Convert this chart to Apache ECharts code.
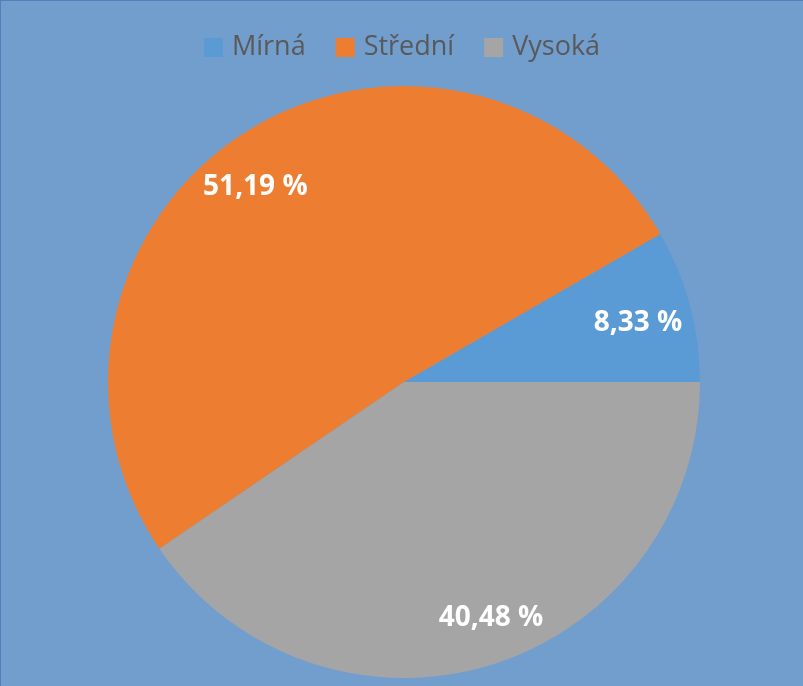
<!DOCTYPE html>
<html>
<head>
<meta charset="utf-8">
<script src="https://cdn.jsdelivr.net/npm/echarts@6/dist/echarts.min.js"></script>
<style>
html,body{margin:0;padding:0;background:#729ece;}
#chart{width:803px;height:686px;box-sizing:border-box;border-left:1px solid #4f82bd;border-top:1px solid #4f82bd;}
</style>
</head>
<body>
<div id="chart"></div>
<script>
const categories = ['Mírná', 'Střední', 'Vysoká'];
const values = [8.33, 51.19, 40.48];
const colors = ['#5b9bd5', '#ed7d31', '#a5a5a5'];
const labelOffsets = [[-5, 5], [-17, 15], [14, 0]];

const chart = echarts.init(document.getElementById('chart'), null, {renderer: 'canvas'});
const pieData = categories.map((c, i) => ({name: c, value: values[i], itemStyle: {color: colors[i]}}));
const fmt = p => p.value.toFixed(2).replace('.', ',') + ' %';

chart.setOption({
  backgroundColor: '#729ece',
  animation: false,
  legend: {
    data: categories,
    top: 28,
    left: 'center',
    itemWidth: 19,
    itemHeight: 19,
    itemGap: 30,
    icon: 'rect',
    textStyle: {color: '#595959', fontSize: 27, fontFamily: 'Open Sans', padding: [0, 0, 0, 4]}
  },
  series: [
    {
      type: 'pie',
      center: [403, 381],
      radius: [0, 296],
      startAngle: 0,
      clockwise: false,
      silent: true,
      label: {show: false},
      labelLine: {show: false},
      data: pieData
    },
    {
      type: 'pie',
      center: [403, 381],
      radius: [193, 296],
      startAngle: 0,
      clockwise: false,
      silent: true,
      itemStyle: {color: 'transparent'},
      emphasis: {disabled: true},
      label: {
        show: true,
        position: 'inside',
        formatter: fmt,
        color: '#ffffff',
        fontSize: 28,
        fontWeight: 'bold',
        fontFamily: 'Open Sans'
      },
      labelLine: {show: false},
      data: categories.map((c, i) => ({
        name: c,
        value: values[i],
        itemStyle: {color: 'transparent'},
        label: {offset: labelOffsets[i]}
      }))
    }
  ]
});
</script>
</body>
</html>
